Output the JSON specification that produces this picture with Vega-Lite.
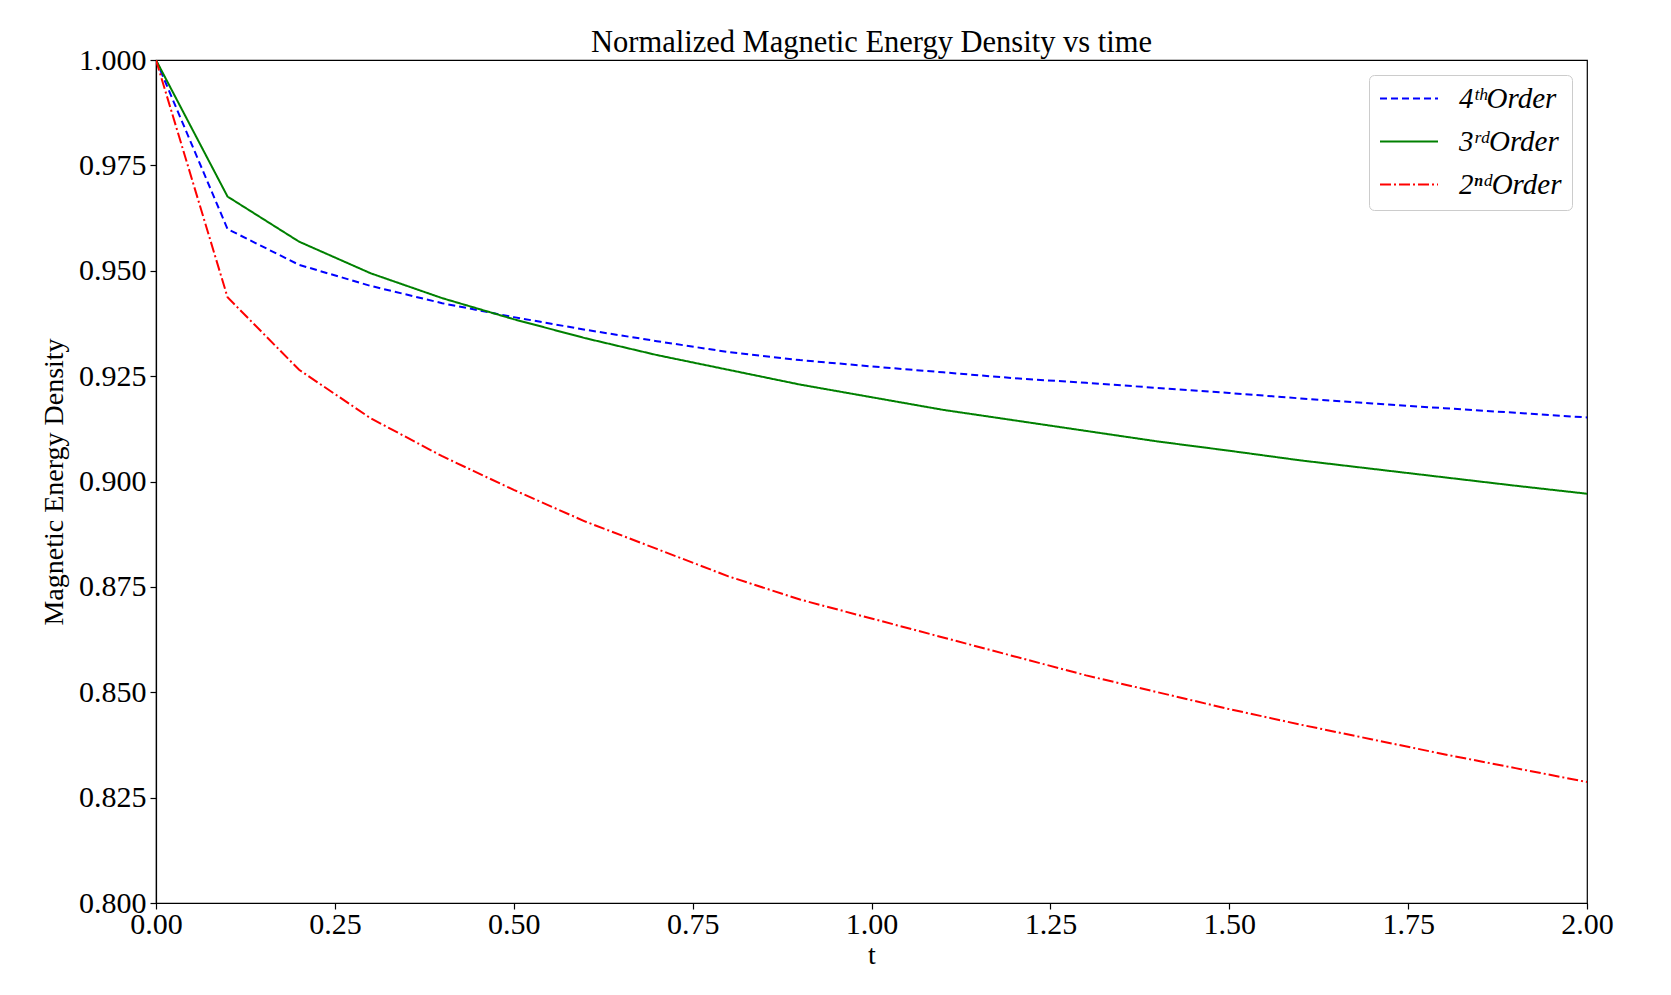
{
  "$schema": "https://vega.github.io/schema/vega-lite/v6.json",
  "autosize": {"type": "none"},
  "width": 1431,
  "height": 843,
  "padding": {"left": 156, "top": 60, "right": 84, "bottom": 92},
  "background": "white",
  "title": {
    "text": "Normalized Magnetic Energy Density vs time",
    "font": "Liberation Serif",
    "fontSize": 30.5,
    "fontWeight": "normal",
    "color": "black",
    "offset": -13
  },
  "data": {
    "values": [
      {"t": 0.0, "E": 1.0, "order": "4ᵗʰOrder"},
      {"t": 0.1, "E": 0.9599, "order": "4ᵗʰOrder"},
      {"t": 0.2, "E": 0.9514, "order": "4ᵗʰOrder"},
      {"t": 0.3, "E": 0.9464, "order": "4ᵗʰOrder"},
      {"t": 0.4, "E": 0.9423, "order": "4ᵗʰOrder"},
      {"t": 0.5, "E": 0.939, "order": "4ᵗʰOrder"},
      {"t": 0.6, "E": 0.936, "order": "4ᵗʰOrder"},
      {"t": 0.7, "E": 0.9333, "order": "4ᵗʰOrder"},
      {"t": 0.8, "E": 0.9307, "order": "4ᵗʰOrder"},
      {"t": 0.9, "E": 0.9288, "order": "4ᵗʰOrder"},
      {"t": 1.0, "E": 0.9273, "order": "4ᵗʰOrder"},
      {"t": 1.1, "E": 0.9259, "order": "4ᵗʰOrder"},
      {"t": 1.2, "E": 0.9245, "order": "4ᵗʰOrder"},
      {"t": 1.3, "E": 0.9234, "order": "4ᵗʰOrder"},
      {"t": 1.4, "E": 0.9222, "order": "4ᵗʰOrder"},
      {"t": 1.5, "E": 0.921, "order": "4ᵗʰOrder"},
      {"t": 1.6, "E": 0.9197, "order": "4ᵗʰOrder"},
      {"t": 1.7, "E": 0.9185, "order": "4ᵗʰOrder"},
      {"t": 1.8, "E": 0.9174, "order": "4ᵗʰOrder"},
      {"t": 1.9, "E": 0.9163, "order": "4ᵗʰOrder"},
      {"t": 2.0, "E": 0.9152, "order": "4ᵗʰOrder"},
      {"t": 0.0, "E": 1.0, "order": "3ʳᵈOrder"},
      {"t": 0.1, "E": 0.9676, "order": "3ʳᵈOrder"},
      {"t": 0.2, "E": 0.9569, "order": "3ʳᵈOrder"},
      {"t": 0.3, "E": 0.9494, "order": "3ʳᵈOrder"},
      {"t": 0.4, "E": 0.9435, "order": "3ʳᵈOrder"},
      {"t": 0.5, "E": 0.9385, "order": "3ʳᵈOrder"},
      {"t": 0.6, "E": 0.934, "order": "3ʳᵈOrder"},
      {"t": 0.7, "E": 0.93, "order": "3ʳᵈOrder"},
      {"t": 0.8, "E": 0.9265, "order": "3ʳᵈOrder"},
      {"t": 0.9, "E": 0.923, "order": "3ʳᵈOrder"},
      {"t": 1.0, "E": 0.92, "order": "3ʳᵈOrder"},
      {"t": 1.1, "E": 0.917, "order": "3ʳᵈOrder"},
      {"t": 1.2, "E": 0.9145, "order": "3ʳᵈOrder"},
      {"t": 1.3, "E": 0.912, "order": "3ʳᵈOrder"},
      {"t": 1.4, "E": 0.9095, "order": "3ʳᵈOrder"},
      {"t": 1.5, "E": 0.9073, "order": "3ʳᵈOrder"},
      {"t": 1.6, "E": 0.905, "order": "3ʳᵈOrder"},
      {"t": 1.7, "E": 0.903, "order": "3ʳᵈOrder"},
      {"t": 1.8, "E": 0.901, "order": "3ʳᵈOrder"},
      {"t": 1.9, "E": 0.899, "order": "3ʳᵈOrder"},
      {"t": 2.0, "E": 0.8971, "order": "3ʳᵈOrder"},
      {"t": 0.0, "E": 1.0, "order": "2ⁿᵈOrder"},
      {"t": 0.1, "E": 0.9437, "order": "2ⁿᵈOrder"},
      {"t": 0.2, "E": 0.9265, "order": "2ⁿᵈOrder"},
      {"t": 0.3, "E": 0.915, "order": "2ⁿᵈOrder"},
      {"t": 0.4, "E": 0.906, "order": "2ⁿᵈOrder"},
      {"t": 0.5, "E": 0.898, "order": "2ⁿᵈOrder"},
      {"t": 0.6, "E": 0.8905, "order": "2ⁿᵈOrder"},
      {"t": 0.7, "E": 0.884, "order": "2ⁿᵈOrder"},
      {"t": 0.8, "E": 0.8775, "order": "2ⁿᵈOrder"},
      {"t": 0.9, "E": 0.872, "order": "2ⁿᵈOrder"},
      {"t": 1.0, "E": 0.8675, "order": "2ⁿᵈOrder"},
      {"t": 1.1, "E": 0.863, "order": "2ⁿᵈOrder"},
      {"t": 1.2, "E": 0.8585, "order": "2ⁿᵈOrder"},
      {"t": 1.3, "E": 0.854, "order": "2ⁿᵈOrder"},
      {"t": 1.4, "E": 0.85, "order": "2ⁿᵈOrder"},
      {"t": 1.5, "E": 0.846, "order": "2ⁿᵈOrder"},
      {"t": 1.6, "E": 0.8423, "order": "2ⁿᵈOrder"},
      {"t": 1.7, "E": 0.8388, "order": "2ⁿᵈOrder"},
      {"t": 1.8, "E": 0.8353, "order": "2ⁿᵈOrder"},
      {"t": 1.9, "E": 0.832, "order": "2ⁿᵈOrder"},
      {"t": 2.0, "E": 0.8287, "order": "2ⁿᵈOrder"}
    ]
  },
  "mark": {"type": "line", "strokeWidth": 2, "clip": true},
  "encoding": {
    "x": {
      "field": "t",
      "type": "quantitative",
      "scale": {"domain": [0, 2], "nice": false, "zero": false},
      "axis": {
        "title": "t",
        "values": [0, 0.25, 0.5, 0.75, 1.0, 1.25, 1.5, 1.75, 2.0],
        "format": ".2f",
        "grid": false,
        "labelFlush": false,
        "labelOverlap": false,
        "tickSize": 6,
        "labelPadding": 0,
        "titlePadding": 2
      }
    },
    "y": {
      "field": "E",
      "type": "quantitative",
      "scale": {"domain": [0.8, 1.0], "nice": false, "zero": false},
      "axis": {
        "title": "Magnetic Energy Density",
        "values": [0.8, 0.825, 0.85, 0.875, 0.9, 0.925, 0.95, 0.975, 1.0],
        "format": ".3f",
        "grid": false,
        "labelFlush": false,
        "labelOverlap": false,
        "tickSize": 6,
        "labelPadding": 4,
        "titlePadding": 10
      }
    },
    "color": {
      "field": "order",
      "type": "nominal",
      "title": null,
      "scale": {
        "domain": ["4ᵗʰOrder", "3ʳᵈOrder", "2ⁿᵈOrder"],
        "range": ["#0000ff", "#008000", "#ff0000"]
      }
    },
    "strokeDash": {
      "field": "order",
      "type": "nominal",
      "title": null,
      "scale": {
        "domain": ["4ᵗʰOrder", "3ʳᵈOrder", "2ⁿᵈOrder"],
        "range": [[7, 4], [1, 0], [11, 3, 2, 3]]
      }
    }
  },
  "config": {
    "view": {"stroke": "black", "strokeWidth": 1.2},
    "axis": {
      "domainColor": "black",
      "tickColor": "black",
      "labelColor": "black",
      "titleColor": "black",
      "labelFont": "Liberation Serif",
      "titleFont": "Liberation Serif",
      "labelFontSize": 30,
      "titleFontSize": 28,
      "titleFontWeight": "normal",
      "domainWidth": 1.2,
      "tickWidth": 1.2
    },
    "legend": {
      "orient": "top-right",
      "offset": 15,
      "padding": 10,
      "fillColor": "white",
      "strokeColor": "#cccccc",
      "cornerRadius": 5,
      "symbolType": "stroke",
      "symbolSize": 3364,
      "symbolStrokeWidth": 2,
      "clipHeight": 27,
      "labelFont": "Liberation Serif",
      "labelFontSize": 29,
      "labelFontStyle": "italic",
      "labelColor": "black",
      "labelOffset": 20,
      "rowPadding": 13
    }
  }
}
